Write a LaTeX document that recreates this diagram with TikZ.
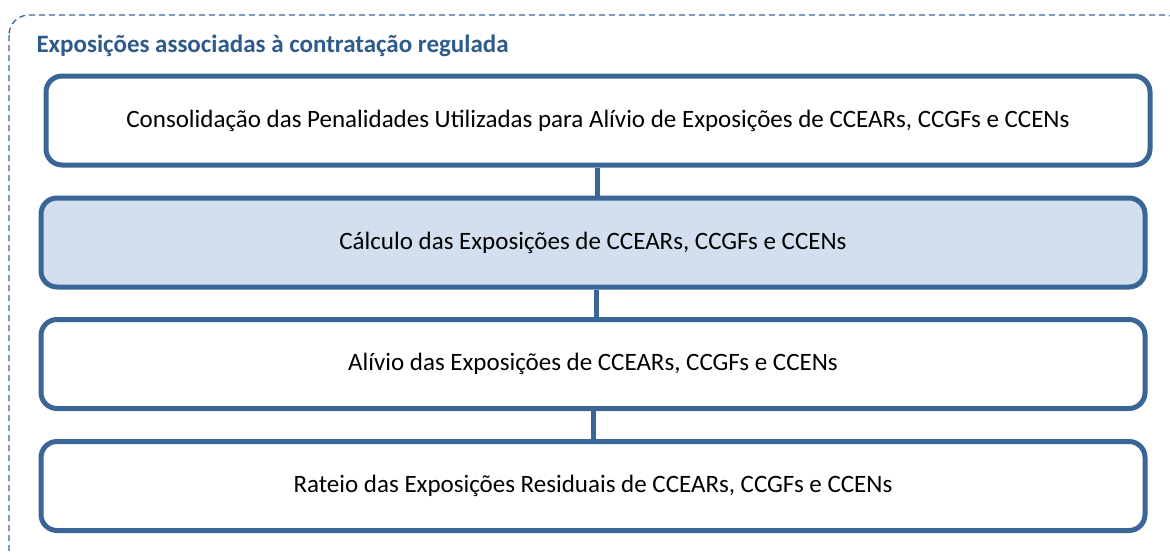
\documentclass[tikz,border=0pt]{standalone}
\usepackage{fontspec}
\setmainfont{Carlito}
\definecolor{caixa}{HTML}{3A6597}
\definecolor{azulclaro}{HTML}{D3DFEE}
\definecolor{titulo}{HTML}{2F5A8C}
\tikzset{
  etapa/.style={draw=caixa,line width=5pt,rounded corners=16pt,fill=white,
    minimum width=1104pt,minimum height=89pt,inner sep=0pt,
    font=\fontsize{25}{30}\selectfont},
  liga/.style={draw=caixa,line width=5pt},
  moldura/.style={draw=caixa,line width=1.3pt,dash pattern=on 6pt off 4pt,rounded corners=20pt}
}

\begin{document}
\begin{tikzpicture}[x=1pt,y=-1pt]
\useasboundingbox (0,0) rectangle (1170,554);
% moldura tracejada
\draw[moldura] (9,15) rectangle (1185,570);
\node[anchor=base west,text=titulo,font=\bfseries\fontsize{25}{30}\selectfont] (titulo) at (33,52) {Exposições associadas à contratação regulada};
% etapas
\node[etapa] (consolidacao) at (598,120.5) {Consolidação das Penalidades Utilizadas para Alívio de Exposições de CCEARs, CCGFs e CCENs};
\node[etapa,fill=azulclaro] (calculo) at (593,242.5) {Cálculo das Exposições de CCEARs, CCGFs e CCENs};
\node[etapa] (alivio) at (593,364) {Alívio das Exposições de CCEARs, CCGFs e CCENs};
\node[etapa] (rateio) at (593,486) {Rateio das Exposições Residuais de CCEARs, CCGFs e CCENs};
% ligacoes
\draw[liga] ([xshift=-1pt]consolidacao.south) -- ([xshift=-1pt]consolidacao.south |- calculo.north);
\draw[liga] ([xshift=3pt]calculo.south) -- ([xshift=3pt]calculo.south |- alivio.north);
\draw[liga] (alivio.south) -- (rateio.north);
\end{tikzpicture}
\end{document}
